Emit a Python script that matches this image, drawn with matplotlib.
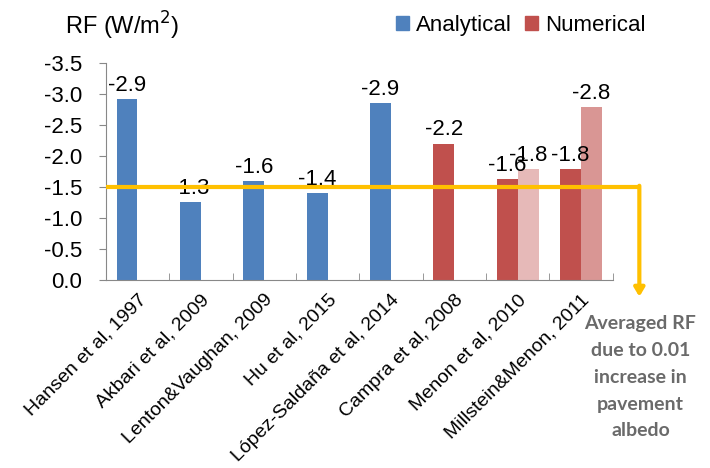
import numpy as np
import matplotlib.pyplot as plt

studies = ["Hansen et al, 1997", "Akbari et al, 2009", "Lenton&Vaughan, 2009",
           "Hu et al, 2015", "López-Saldaña et al, 2014", "Campra et al, 2008",
           "Menon et al, 2010", "Millstein&Menon, 2011"]
rf_first = [-2.92, -1.26, -1.59, -1.40, -2.86, -2.20, -1.63, -1.79]
rf_second = [None, None, None, None, None, None, -1.79, -2.79]
method = ["Analytical"] * 5 + ["Numerical"] * 3
average_rf = -1.5

blue = "#4F81BD"
red = "#C0504D"
second_colors = {6: "#E6B9B8", 7: "#D99694"}

plt.rcParams["font.family"] = ["Liberation Sans", "DejaVu Sans"]

fig = plt.figure(figsize=(7.1, 4.68), dpi=100)
ax = fig.add_axes([0.149, 0.4017, 0.714, 0.4637])

x = np.arange(len(studies))
w = 0.33
for i in x:
    c = blue if method[i] == "Analytical" else red
    ax.bar(i - w / 2, rf_first[i], w, color=c)
    ax.text(i - w / 2, rf_first[i] - 0.05, f"{rf_first[i]:.1f}", ha="center",
            va="bottom", fontsize=16)
    if rf_second[i] is not None:
        ax.bar(i + w / 2, rf_second[i], w, color=second_colors[i])
        ax.text(i + w / 2, rf_second[i] - 0.05, f"{rf_second[i]:.1f}",
                ha="center", va="bottom", fontsize=16)

ax.set_xlim(-0.5, len(studies) - 0.5)
ax.set_ylim(0, -3.5)
ax.set_yticks(np.arange(0, -3.51, -0.5))
ax.set_yticklabels([f"{v:.1f}" for v in np.arange(0, -3.51, -0.5)], fontsize=16)
ax.set_xticks(x)
ax.set_xticklabels(studies, rotation=45, ha="right", rotation_mode="anchor",
                   fontsize=14)
ax.set_xticks(np.arange(-0.5, len(studies) + 0.5, 1), minor=True)
ax.tick_params(axis="x", which="major", length=0, pad=8)
ax.tick_params(axis="x", which="minor", length=5, color="#888888", direction="in")
ax.tick_params(axis="y", length=5, color="#888888", pad=12)
for s in ["top", "right"]:
    ax.spines[s].set_visible(False)
for s in ["left", "bottom"]:
    ax.spines[s].set_color("#888888")

# averaged RF line with arrow
x_end = 7.92
ax.plot([-0.5, x_end], [average_rf, average_rf], color="#FFC000", lw=3,
        clip_on=False, solid_capstyle="butt", zorder=5)
ax.annotate("", xy=(x_end, 0.27), xytext=(x_end, average_rf - 0.02),
            annotation_clip=False,
            arrowprops=dict(arrowstyle="-|>,head_length=0.5,head_width=0.3",
                            color="#FFC000", lw=3, shrinkA=0, shrinkB=0))
fig.text(0.902, 0.194, "Averaged RF\ndue to 0.01\nincrease in\npavement\nalbedo",
         ha="center", va="center", fontsize=14, fontweight="bold",
         color="#6a6a6a", family=["Lato", "DejaVu Sans"], linespacing=1.7)

fig.text(0.092, 0.945, "RF (W/m$^2$)", fontsize=17, va="center")

handles = [plt.Rectangle((0, 0), 1, 1, color=blue),
           plt.Rectangle((0, 0), 1, 1, color=red)]
fig.legend(handles, ["Analytical", "Numerical"], loc="center",
           bbox_to_anchor=(0.733, 0.945), ncol=2, frameon=False, fontsize=16,
           handlelength=0.6, handleheight=0.6, handletextpad=0.3,
           columnspacing=0.6)

fig.savefig("out.png", dpi=100)
